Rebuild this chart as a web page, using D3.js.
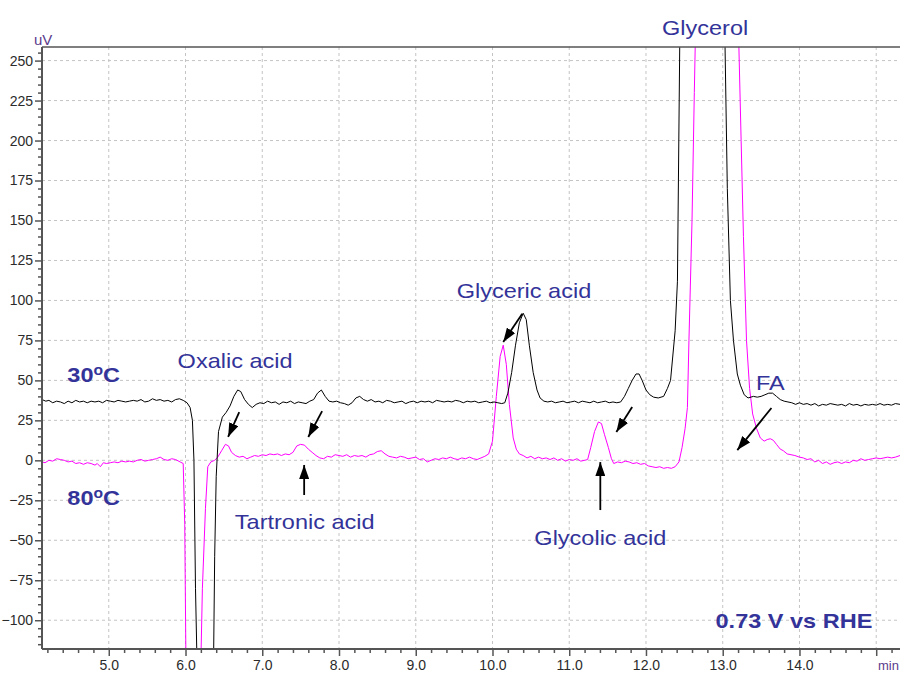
<!DOCTYPE html>
<meta charset="utf-8">
<script src="https://d3js.org/d3.v7.min.js"></script>
<style>
  body { margin: 0; background: #fff; }
  svg { display: block; font-family: "Liberation Sans", Arial, sans-serif; }
</style>
<div id="chart"></div>
<script>

// 30 oC trace (black): [time in min, signal in uV]
var trace30 = [
  [4.13,38],[4.18,37],[4.22,37.5],[4.27,36],[4.32,37],[4.37,36.5],[4.42,35.5],[4.47,37],[4.52,36],[4.57,37.5],
  [4.62,36.5],[4.67,37],[4.72,36],[4.77,37],[4.82,36.5],[4.87,37],[4.92,36],[4.97,37.5],[5.02,37],[5.07,36.5],
  [5.12,37.5],[5.17,37],[5.22,36.5],[5.27,37],[5.32,37.5],[5.37,37],[5.42,38],[5.47,36.5],[5.52,37],[5.57,38.5],
  [5.62,37.5],[5.67,38],[5.72,37],[5.77,37.5],[5.82,36.5],[5.87,38],[5.92,38.5],[5.97,37.5],[6.02,36],[6.06,33],
  [6.09,25],[6.11,0],[6.13,-80],[6.16,-150],[6.36,-150],[6.38,-60],[6.40,-10],[6.43,18],[6.48,27],[6.53,30],
  [6.58,34],[6.63,40],[6.68,44],[6.72,43],[6.77,38],[6.82,35],[6.87,33],[6.92,35],[6.97,36],[7.02,35.5],
  [7.07,37],[7.12,36],[7.17,36.5],[7.22,35],[7.27,36.5],[7.32,36],[7.37,37],[7.42,35.5],[7.47,36.5],[7.52,36],
  [7.57,35.5],[7.62,37],[7.67,38],[7.72,42],[7.77,44],[7.82,40],[7.87,37],[7.92,36.5],[7.97,37],[8.02,36],
  [8.07,35.5],[8.12,34.5],[8.17,36],[8.22,39],[8.27,40],[8.32,38],[8.37,37],[8.42,38],[8.47,36.5],[8.52,37],
  [8.57,36],[8.62,37.5],[8.67,37],[8.72,36],[8.77,36.5],[8.82,37],[8.87,35.5],[8.92,36.5],[8.97,37],[9.02,36],
  [9.07,37],[9.12,36.5],[9.17,37],[9.22,36],[9.27,37.5],[9.32,37],[9.37,36.5],[9.42,37],[9.47,36.5],[9.52,37.5],
  [9.57,37],[9.62,36],[9.67,37],[9.72,36.5],[9.77,37],[9.82,36],[9.87,36.5],[9.92,37],[9.97,36],[10.02,36.5],
  [10.07,36],[10.12,35.5],[10.16,36],[10.20,42],[10.25,55],[10.30,72],[10.35,86],[10.40,92],[10.44,88],[10.48,72],
  [10.53,55],[10.58,44],[10.62,39],[10.67,37],[10.72,36.5],[10.77,37],[10.82,36],[10.87,36.5],[10.92,37],[10.97,36],
  [11.02,36.5],[11.07,37],[11.12,36],[11.17,37],[11.22,36.5],[11.27,36],[11.32,37],[11.37,36],[11.42,36.5],[11.47,37],
  [11.52,36],[11.57,36.5],[11.62,36],[11.67,36.5],[11.72,40],[11.77,45],[11.82,50],[11.87,54],[11.91,54],[11.95,50],
  [12.00,44],[12.05,41],[12.10,39.5],[12.16,39],[12.23,40],[12.28,45],[12.32,50],[12.38,81],[12.41,112],[12.44,260],
  [12.47,400],[12.75,700],[13.00,400],[13.03,260],[13.06,170],[13.10,100],[13.14,75],[13.19,54],[13.23,47],[13.28,41],
  [13.33,39],[13.40,40],[13.45,39.5],[13.50,40],[13.55,41],[13.60,42],[13.65,42],[13.70,40],[13.75,38],[13.80,37],
  [13.85,36.5],[13.90,36],[13.95,35],[14.00,36],[14.05,35],[14.10,35.5],[14.15,34.5],[14.20,35.5],[14.25,34],[14.30,35],
  [14.35,34.5],[14.40,35.5],[14.45,35],[14.50,34.5],[14.55,35],[14.60,34],[14.65,35.5],[14.70,34.5],[14.75,35],[14.80,34],
  [14.85,35],[14.90,34.5],[14.95,35],[15.00,34.5],[15.05,35.5],[15.10,34.5],[15.15,35],[15.20,34.5],[15.25,35.5],[15.31,35]
];

// 80 oC trace (magenta)
var trace80 = [
  [4.13,-1],[4.17,-1.5],[4.22,0],[4.27,-0.5],[4.32,1],[4.37,0.5],[4.42,0],[4.47,-1],[4.52,-0.5],[4.57,-2],
  [4.62,-1.5],[4.67,-2.5],[4.72,-1.5],[4.77,-2],[4.82,-3],[4.85,-2],[4.89,-4],[4.93,-1.5],[4.97,-2],[5.02,-1.5],
  [5.07,-1],[5.12,-1.5],[5.17,-0.5],[5.22,-1],[5.27,-0.5],[5.32,-1],[5.37,0],[5.42,0.5],[5.47,-0.5],[5.52,0],
  [5.57,0.5],[5.62,1],[5.67,2],[5.72,0.5],[5.77,0],[5.82,1],[5.87,0.5],[5.93,-1],[5.97,-2],[5.99,-40],
  [6.01,-150],[6.19,-150],[6.22,-80],[6.26,-30],[6.29,-4],[6.33,-1],[6.38,0],[6.42,2],[6.47,6],[6.52,10],
  [6.56,9],[6.60,5],[6.65,3],[6.70,2],[6.75,2.5],[6.80,1],[6.85,2],[6.90,3],[6.95,2.5],[7.00,3.5],
  [7.05,3],[7.10,4],[7.15,3.5],[7.20,4],[7.25,3],[7.30,4],[7.35,3.5],[7.40,5],[7.45,9],[7.50,10],
  [7.55,9.5],[7.60,7],[7.65,5],[7.70,3],[7.75,1.5],[7.80,1],[7.85,2.5],[7.90,2],[7.95,3.5],[8.00,3],
  [8.05,2.5],[8.10,3.5],[8.15,2],[8.20,3],[8.25,2.5],[8.30,3],[8.35,2],[8.40,3.5],[8.45,4],[8.50,5.5],
  [8.55,6],[8.60,4],[8.65,2.5],[8.70,2],[8.75,1.5],[8.80,2.5],[8.85,2],[8.90,1],[8.95,1.5],[9.00,2],
  [9.05,0.5],[9.10,1],[9.15,-1],[9.20,0],[9.25,1],[9.30,0.5],[9.35,1.5],[9.40,1],[9.45,2],[9.50,1],
  [9.55,0.5],[9.60,1.5],[9.65,1],[9.70,2],[9.75,1],[9.80,0.5],[9.85,1.5],[9.90,2.5],[9.95,4],[10.00,12],
  [10.05,40],[10.10,65],[10.14,72],[10.18,60],[10.22,35],[10.27,14],[10.31,7],[10.35,4],[10.40,3],[10.45,1.5],
  [10.50,2.5],[10.55,1],[10.60,2],[10.65,1],[10.70,1.5],[10.75,0.5],[10.80,1.5],[10.85,0],[10.90,1],[10.95,-0.5],
  [11.00,0.5],[11.05,0],[11.10,1],[11.15,-0.5],[11.20,0],[11.24,0.5],[11.28,8],[11.33,18],[11.38,24],[11.42,23],
  [11.46,16],[11.51,8],[11.55,1],[11.58,-2],[11.63,-1],[11.68,-1.5],[11.73,-0.5],[11.78,-1],[11.83,-2],[11.88,-1.5],
  [11.93,-2.5],[11.98,-2],[12.03,-3.5],[12.08,-4],[12.13,-4.5],[12.18,-4],[12.23,-5],[12.28,-4.5],[12.33,-5],[12.38,-4],
  [12.43,-1],[12.47,8],[12.51,20],[12.54,33],[12.56,75],[12.60,150],[12.63,230],[12.65,280],[12.90,700],[13.17,320],
  [13.21,260],[13.24,200],[13.27,140],[13.31,75],[13.35,45],[13.39,29],[13.44,20],[13.49,14],[13.54,12],[13.58,13],
  [13.62,13.5],[13.66,12.5],[13.70,10],[13.75,7],[13.79,6],[13.84,4],[13.89,3.5],[13.94,3],[14.00,2],[14.05,1.5],
  [14.10,0.5],[14.15,1],[14.20,-1],[14.25,0],[14.30,-2],[14.35,-1],[14.40,-2.5],[14.45,-1.5],[14.50,-1],[14.55,-2],
  [14.60,-1],[14.65,-1.5],[14.70,0],[14.75,-0.5],[14.80,1],[14.85,0],[14.90,0.5],[14.95,1],[15.00,1.5],[15.05,1],
  [15.10,1.5],[15.15,2],[15.20,1.5],[15.25,2],[15.31,3]
];

// axis ticks
var xMajor = [5, 6, 7, 8, 9, 10, 11, 12, 13, 14, 15];
var xLabels = ["5.0", "6.0", "7.0", "8.0", "9.0", "10.0", "11.0", "12.0", "13.0", "14.0", ""];
var yMajor = [-100, -75, -50, -25, 0, 25, 50, 75, 100, 125, 150, 175, 200, 225, 250];

// peak labels: [text, time, uV]
var peakLabels = [
  ["Glycerol", 12.77, 266],
  ["Glyceric acid", 10.41, 101.5],
  ["Oxalic acid", 6.646, 57.7],
  ["Tartronic acid", 7.553, -43],
  ["Glycolic acid", 11.405, -53],
  ["FA", 13.62, 44]
];

// arrows: [from time, from uV, to time, to uV]
var arrows = [
  [6.70, 30.2, 6.555, 14.6],
  [7.78, 30.8, 7.60, 14.6],
  [7.546, -21.7, 7.546, -2.9],
  [10.388, 91.6, 10.14, 74.0],
  [11.82, 33.3, 11.614, 17.7],
  [11.405, -31.1, 11.405, -1.1],
  [13.635, 32.7, 13.19, 6.4]
];

var W = 902, H = 673;
var margin = {top: 47, right: 2, bottom: 24, left: 42},
    width = W - margin.left - margin.right,
    height = H - margin.top - margin.bottom;

var svg = d3.select("#chart").append("svg")
    .attr("width", W).attr("height", H);

var g = svg.append("g")
    .attr("transform", "translate(" + margin.left + "," + margin.top + ")");

var x = d3.scaleLinear().domain([4.13, 15.31]).range([0, width]);
var y = d3.scaleLinear().domain([-118, 258.5]).range([height, 0]);

// dashed grid
g.append("g").selectAll("line").data(xMajor).enter().append("line")
    .attr("x1", d => x(d)).attr("x2", d => x(d))
    .attr("y1", 0).attr("y2", height)
    .attr("stroke", "#c4c4c4").attr("stroke-dasharray", "3,3");
g.append("g").selectAll("line").data(yMajor).enter().append("line")
    .attr("x1", 0).attr("x2", width)
    .attr("y1", d => y(d)).attr("y2", d => y(d))
    .attr("stroke", "#c4c4c4").attr("stroke-dasharray", "3,3");

// traces, clipped to plot area
g.append("clipPath").attr("id", "clip")
  .append("rect").attr("width", width).attr("height", height);

var line = d3.line().x(d => x(d[0])).y(d => y(d[1]));

g.append("path").datum(trace80)
    .attr("clip-path", "url(#clip)")
    .attr("fill", "none").attr("stroke", "#ff00ff").attr("stroke-width", 1)
    .attr("d", line);
g.append("path").datum(trace30)
    .attr("clip-path", "url(#clip)")
    .attr("fill", "none").attr("stroke", "#000").attr("stroke-width", 1)
    .attr("d", line);

// axes: minor then major
var yMinor = d3.range(-115, 258, 5).filter(v => v % 25 !== 0);
var xMinor = d3.range(4.2, 15.31, 0.2).filter(v => Math.abs(v - Math.round(v)) > 0.01);

g.append("g").call(d3.axisLeft(y).tickValues(yMinor).tickSize(4).tickFormat(""));
g.append("g").attr("class", "ax")
    .call(d3.axisLeft(y).tickValues(yMajor).tickSize(7).tickPadding(2));
g.append("g").attr("transform", "translate(0," + height + ")")
    .call(d3.axisBottom(x).tickValues(xMinor).tickSize(4).tickFormat(""));
g.append("g").attr("class", "ax").attr("transform", "translate(0," + height + ")")
    .call(d3.axisBottom(x).tickValues(xMajor).tickSize(7).tickPadding(4)
        .tickFormat((d, i) => xLabels[i]));

g.selectAll(".domain").remove();
g.selectAll(".tick line").attr("stroke", "#555").attr("stroke-width", 1.5);
g.selectAll(".ax")
    .attr("font-size", 14)
    .attr("font-family", "'Liberation Sans', Arial, sans-serif");
g.selectAll(".ax .tick text").attr("fill", "#2b2b2b");

// frame
g.append("line").attr("x1", 0).attr("x2", 0).attr("y1", 0).attr("y2", height)
    .attr("stroke", "#555").attr("stroke-width", 2);
g.append("line").attr("x1", 0).attr("x2", width).attr("y1", height).attr("y2", height)
    .attr("stroke", "#555").attr("stroke-width", 2);
g.append("line").attr("x1", 0).attr("x2", width).attr("y1", 0).attr("y2", 0)
    .attr("stroke", "#555").attr("stroke-width", 1.5);

// units
svg.append("text").attr("x", 34).attr("y", 45).text("uV")
    .attr("fill", "#5b3c8c").style("font-size", "15px");
svg.append("text").attr("x", 878).attr("y", 670).text("min")
    .attr("fill", "#5b3c8c").style("font-size", "13px");

// arrows
svg.append("defs").append("marker")
    .attr("id", "head").attr("viewBox", "0 0 14 10")
    .attr("refX", 14).attr("refY", 5)
    .attr("markerWidth", 14).attr("markerHeight", 10)
    .attr("markerUnits", "userSpaceOnUse")
    .attr("orient", "auto")
  .append("path").attr("d", "M0,0L14,5L0,10Z").attr("fill", "#000");

g.selectAll(".arrow").data(arrows).enter().append("line")
    .attr("class", "arrow")
    .attr("x1", d => x(d[0])).attr("y1", d => y(d[1]))
    .attr("x2", d => x(d[2])).attr("y2", d => y(d[3]))
    .attr("stroke", "#000").attr("stroke-width", 1.8)
    .attr("marker-end", "url(#head)");

// peak labels (the original text is slightly stretched horizontally)
var labelColor = "#333399";
g.selectAll(".peak").data(peakLabels).enter().append("text")
    .attr("class", "peak")
    .attr("transform", d => "translate(" + x(d[1]) + "," + y(d[2]) + ") scale(1.12,1)")
    .attr("text-anchor", "middle")
    .attr("fill", labelColor)
    .style("font-size", "21px")
    .text(d => d[0]);

// temperature labels
function tempLabel(t, v, deg) {
  var tx = g.append("text")
      .attr("transform", "translate(" + x(t) + "," + y(v) + ") scale(1.12,1)")
      .attr("fill", labelColor).style("font-size", "21px").style("font-weight", "bold");
  tx.append("tspan").text(deg);
  tx.append("tspan").attr("dy", -7).style("font-size", "14px").text("o");
  tx.append("tspan").attr("dy", 7).text("C");
}
tempLabel(4.46, 49, "30");
tempLabel(4.46, -27.9, "80");

g.append("text")
    .attr("transform", "translate(" + x(13.928) + "," + y(-104.9) + ") scale(1.12,1)")
    .attr("text-anchor", "middle")
    .attr("fill", labelColor).style("font-size", "21px").style("font-weight", "bold")
    .text("0.73 V vs RHE");

</script>
